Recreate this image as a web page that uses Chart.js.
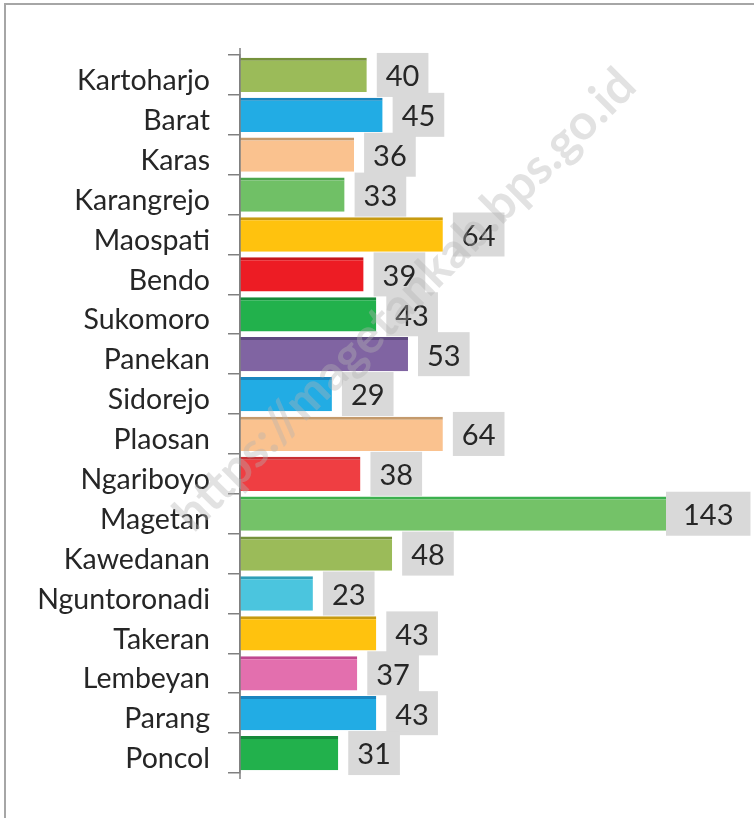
<!DOCTYPE html>
<html>
<head>
<meta charset="utf-8">
<script src="https://cdn.jsdelivr.net/npm/chart.js@4.4.1/dist/chart.umd.min.js"></script>
<style>
  html, body { margin: 0; padding: 0; background: #fff; }
  #wrap { position: absolute; left: 0; top: 0; width: 754px; height: 818px; }
  #frame { position: absolute; left: 4px; top: 3px; width: 760px; height: 830px;
           border-left: 2px solid #a6a6a6; border-top: 2px solid #a6a6a6; box-sizing: border-box; }
  canvas { position: absolute; left: 0; top: 0; }
</style>
</head>
<body>
<div id="wrap">
  <div id="frame"></div>
  <canvas id="c" width="754" height="818"></canvas>
</div>
<script>
const categories = ["Kartoharjo","Barat","Karas","Karangrejo","Maospati","Bendo","Sukomoro","Panekan","Sidorejo","Plaosan","Ngariboyo","Magetan","Kawedanan","Nguntoronadi","Takeran","Lembeyan","Parang","Poncol"];
const values = [40,45,36,33,64,39,43,53,29,64,38,143,48,23,43,37,43,31];
const barColors = ["#9bbb59","#22ace4","#fac28f","#70c066","#ffc20e","#ed1c24","#22b14c","#8064a2","#22ace4","#fac28f","#ef3e42","#74c268","#9bbb59","#4bc5de","#ffc20e","#e36fae","#22ace4","#22b14c"];
const topColors = ["#76923c","#1a86bf","#c49a6c","#4ca64c","#c79a10","#c4161c","#168a3a","#5f4a80","#1a86bf","#c49a6c","#c83034","#3cb04e","#76923c","#2f9fb8","#c79a10","#c04890","#1a86bf","#168a3a"];
const axisMax = 134.4;
const watermarkText = "https://magetankab.bps.go.id";

const labelPlugin = {
  id: 'valueBoxes',
  afterDatasetsDraw(chart) {
    const ctx = chart.ctx;
    const meta = chart.getDatasetMeta(0);
    const area = chart.chartArea;
    ctx.save();
    ctx.font = '29px Lato';
    ctx.textBaseline = 'middle';
    ctx.textAlign = 'left';
    meta.data.forEach((bar, i) => {
      const txt = String(values[i]);
      const w = ctx.measureText(txt).width;
      const clipped = bar.x > area.right;
      const bx = clipped ? area.right : bar.x + 10;
      const padX = clipped ? 17 : 9;
      const bw = w + padX * 2;
      const bh = 44;
      ctx.fillStyle = '#d9d9d9';
      ctx.fillRect(bx, bar.y - bh / 2, bw, bh);
      ctx.fillStyle = '#262626';
      ctx.fillText(txt, bx + padX, bar.y + 2);
    });
    ctx.restore();
  },
  afterDraw(chart) {
    const ctx = chart.ctx;
    const area = chart.chartArea;
    ctx.save();
    ctx.strokeStyle = '#808080';
    ctx.lineWidth = 1.5;
    ctx.beginPath();
    ctx.moveTo(area.left, 48);
    ctx.lineTo(area.left, area.bottom + 6);
    ctx.stroke();
    ctx.restore();
    ctx.save();
    ctx.translate(405, 300);
    ctx.rotate(-Math.PI / 4);
    ctx.font = 'bold 49px Lato';
    ctx.textAlign = 'center';
    ctx.textBaseline = 'middle';
    ctx.fillStyle = 'rgba(180,180,180,0.38)';
    ctx.fillText(watermarkText, 0, 0);
    ctx.restore();
  }
};

new Chart(document.getElementById('c'), {
  type: 'bar',
  data: {
    labels: categories,
    datasets: [{
      data: values,
      backgroundColor: barColors,
      borderColor: topColors,
      borderWidth: { top: 3, left: 0, right: 0, bottom: 0 },
      borderSkipped: false,
      barPercentage: 0.86,
      categoryPercentage: 1.0
    }]
  },
  options: {
    indexAxis: 'y',
    responsive: false,
    animation: false,
    events: [],
    layout: { padding: { left: 0, top: 55, bottom: 45, right: 88 } },
    plugins: { legend: { display: false }, tooltip: { enabled: false } },
    scales: {
      x: { display: false, min: 0, max: axisMax },
      y: {
        afterFit(scale) { scale.width = 240; },
        border: { display: true, color: '#808080', width: 1.5 },
        grid: { display: true, drawOnChartArea: false, tickLength: 12, color: '#808080', lineWidth: 1.5 },
        ticks: { color: '#262626', font: { family: 'Lato', size: 28.5 }, padding: 18, labelOffset: 6, autoSkip: false }
      }
    }
  },
  plugins: [labelPlugin]
});
</script>
</body>
</html>
